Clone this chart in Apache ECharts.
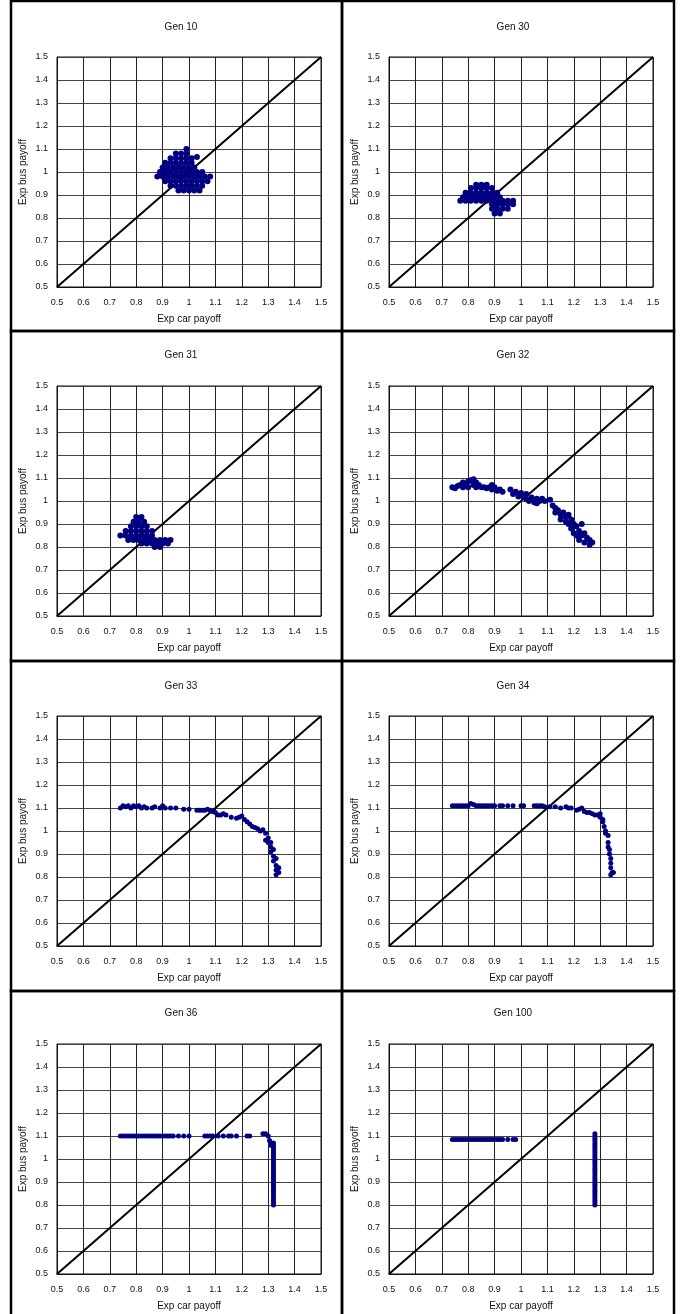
<!DOCTYPE html>
<html>
<head>
<meta charset="utf-8">
<script src="https://cdn.jsdelivr.net/npm/echarts@6/dist/echarts.min.js"></script>
<style>
html,body{margin:0;padding:0;background:#fff;}
#chart{width:685px;height:1314px;}
</style>
</head>
<body>
<div id="chart"></div>
<script>
// ---------- DATA ----------
const panelTitles = ['Gen 10', 'Gen 30', 'Gen 31', 'Gen 32', 'Gen 33', 'Gen 34', 'Gen 36', 'Gen 100'];
const xAxisTitle = 'Exp car payoff';
const yAxisTitle = 'Exp bus payoff';
const axisMin = 0.5, axisMax = 1.5, axisStep = 0.1;
const diagonal = [[0.5, 0.5], [1.5, 1.5]];

const gen10 = [
  [0.99,1.10],
  [0.95,1.08],[0.97,1.08],[0.99,1.08],
  [0.93,1.06],[0.95,1.06],[0.97,1.06],[0.99,1.06],[1.01,1.06],[1.03,1.065],
  [0.91,1.04],[0.93,1.04],[0.95,1.04],[0.97,1.04],[0.99,1.04],[1.01,1.04],
  [0.90,1.02],[0.92,1.02],[0.94,1.02],[0.96,1.02],[0.98,1.02],[1.00,1.02],[1.02,1.02],
  [0.89,1.00],[0.91,1.00],[0.93,1.00],[0.95,1.00],[0.97,1.00],[0.99,1.00],[1.01,1.00],[1.03,1.00],[1.05,1.00],
  [0.88,0.98],[0.90,0.98],[0.92,0.98],[0.94,0.98],[0.96,0.98],[0.98,0.98],[1.00,0.98],[1.02,0.98],[1.04,0.98],[1.06,0.98],[1.08,0.98],
  [0.91,0.96],[0.93,0.96],[0.95,0.96],[0.97,0.96],[0.99,0.96],[1.01,0.96],[1.03,0.96],[1.05,0.96],[1.07,0.96],
  [0.93,0.94],[0.95,0.94],[0.97,0.94],[0.99,0.94],[1.01,0.94],[1.03,0.94],[1.05,0.94],
  [0.96,0.92],[0.98,0.92],[1.00,0.92],[1.02,0.92],[1.04,0.92]
];

const gen30 = [
  [0.83,0.945],[0.85,0.945],[0.87,0.945],
  [0.81,0.93],[0.83,0.93],[0.85,0.93],[0.87,0.93],[0.89,0.93],
  [0.79,0.91],[0.81,0.91],[0.83,0.91],[0.85,0.91],[0.87,0.91],[0.89,0.91],[0.91,0.91],
  [0.78,0.89],[0.80,0.89],[0.82,0.89],[0.84,0.89],[0.86,0.89],[0.88,0.89],[0.90,0.89],[0.92,0.89],
  [0.77,0.875],[0.79,0.875],[0.81,0.875],[0.83,0.875],[0.85,0.875],[0.87,0.875],[0.89,0.875],[0.91,0.875],[0.93,0.875],[0.95,0.875],[0.97,0.875],
  [0.89,0.86],[0.91,0.86],[0.93,0.86],[0.95,0.86],[0.97,0.86],
  [0.89,0.84],[0.91,0.84],[0.93,0.84],[0.95,0.84],
  [0.90,0.82],[0.92,0.82]
];

const gen31 = [
  [0.80,0.93],[0.82,0.93],
  [0.79,0.91],[0.81,0.91],[0.83,0.91],
  [0.78,0.89],[0.80,0.89],[0.82,0.89],[0.84,0.89],
  [0.76,0.87],[0.78,0.87],[0.80,0.87],[0.82,0.87],[0.84,0.87],[0.86,0.87],
  [0.74,0.85],[0.76,0.85],[0.78,0.85],[0.80,0.85],[0.82,0.85],[0.84,0.85],[0.86,0.85],
  [0.77,0.83],[0.79,0.83],[0.81,0.83],[0.83,0.83],[0.85,0.83],[0.87,0.83],[0.89,0.83],[0.91,0.83],[0.93,0.83],
  [0.82,0.815],[0.84,0.815],[0.86,0.815],[0.88,0.815],[0.90,0.815],[0.92,0.815],
  [0.87,0.80],[0.89,0.80]
];

const gen32 = [
  [0.74,1.06],[0.75,1.055],[0.76,1.065],[0.77,1.07],[0.78,1.06],[0.78,1.08],[0.79,1.07],[0.80,1.085],
  [0.80,1.06],[0.81,1.09],[0.82,1.07],[0.82,1.095],[0.83,1.06],[0.83,1.08],[0.84,1.07],[0.85,1.06],
  [0.86,1.06],[0.87,1.055],[0.88,1.06],[0.89,1.05],[0.89,1.07],[0.90,1.06],[0.91,1.045],[0.92,1.05],
  [0.93,1.04],[0.96,1.05],[0.97,1.03],[0.98,1.04],[0.99,1.02],[1.00,1.035],[1.01,1.02],[1.02,1.03],
  [1.02,1.01],[1.03,1.00],[1.04,1.015],[1.05,0.995],[1.06,1.01],[1.06,0.99],[1.07,1.00],[1.08,1.01],
  [1.09,1.00],[1.11,1.005],[1.12,0.98],[1.13,0.97],[1.13,0.95],[1.14,0.96],[1.15,0.94],[1.15,0.92],
  [1.16,0.95],[1.17,0.93],[1.17,0.91],[1.18,0.94],[1.18,0.90],[1.19,0.92],[1.19,0.88],[1.20,0.90],
  [1.20,0.86],[1.21,0.89],[1.21,0.85],[1.22,0.87],[1.22,0.83],[1.23,0.90],[1.23,0.85],[1.24,0.82],
  [1.24,0.86],[1.25,0.84],[1.26,0.81],[1.26,0.83],[1.27,0.82]
];

const gen33 = [
  [0.74,1.10],[0.75,1.11],[0.76,1.105],[0.77,1.11],[0.78,1.10],[0.79,1.11],[0.80,1.105],[0.81,1.11],
  [0.82,1.10],[0.83,1.105],[0.84,1.10],[0.86,1.10],[0.87,1.105],[0.89,1.10],[0.90,1.11],[0.91,1.10],
  [0.93,1.10],[0.95,1.10],[0.98,1.095],[1.00,1.095],[1.03,1.09],[1.04,1.09],[1.05,1.09],[1.06,1.09],
  [1.07,1.095],[1.08,1.09],[1.09,1.085],[1.10,1.08],[1.11,1.07],[1.12,1.07],[1.13,1.075],[1.14,1.07],
  [1.16,1.06],[1.18,1.055],[1.19,1.06],[1.20,1.065],[1.21,1.05],[1.22,1.04],[1.23,1.03],[1.24,1.02],
  [1.25,1.015],[1.26,1.01],[1.27,1.00],[1.28,1.005],[1.29,0.99],[1.29,0.96],[1.30,0.95],[1.30,0.97],
  [1.31,0.93],[1.31,0.95],[1.31,0.91],[1.32,0.89],[1.32,0.92],[1.32,0.87],[1.33,0.85],[1.33,0.88],
  [1.33,0.83],[1.34,0.82],[1.33,0.81],[1.34,0.84]
];

const gen34 = [
  [0.74,1.11],[0.75,1.11],[0.76,1.11],[0.77,1.11],[0.78,1.11],[0.79,1.11],[0.80,1.11],[0.81,1.12],
  [0.82,1.115],[0.83,1.11],[0.84,1.11],[0.85,1.11],[0.86,1.11],[0.87,1.11],[0.88,1.11],[0.89,1.11],
  [0.90,1.11],[0.92,1.11],[0.93,1.11],[0.95,1.11],[0.97,1.11],[1.00,1.11],[1.01,1.11],[1.05,1.11],
  [1.06,1.11],[1.07,1.11],[1.08,1.11],[1.09,1.105],[1.11,1.105],[1.13,1.105],[1.15,1.10],[1.17,1.105],
  [1.18,1.10],[1.19,1.10],[1.21,1.09],[1.22,1.095],[1.23,1.10],[1.24,1.085],[1.25,1.08],[1.26,1.08],
  [1.27,1.075],[1.28,1.07],[1.29,1.07],[1.30,1.06],[1.30,1.075],[1.31,1.04],[1.31,1.05],[1.315,1.02],
  [1.32,1.00],[1.32,0.99],[1.33,0.98],[1.33,0.95],[1.33,0.93],[1.335,0.92],[1.335,0.90],[1.34,0.88],
  [1.34,0.86],[1.34,0.84],[1.345,0.82],[1.34,0.81],[1.35,0.82]
];

const gen36 = [
  [0.74,1.10],[0.75,1.10],[0.76,1.10],[0.77,1.10],[0.78,1.10],[0.79,1.10],[0.80,1.10],[0.81,1.10],
  [0.82,1.10],[0.83,1.10],[0.84,1.10],[0.85,1.10],[0.86,1.10],[0.87,1.10],[0.88,1.10],[0.89,1.10],
  [0.90,1.10],[0.91,1.10],[0.92,1.10],[0.93,1.10],[0.94,1.10],[0.96,1.10],[0.98,1.10],[1.00,1.10],
  [1.06,1.10],[1.07,1.10],[1.08,1.10],[1.09,1.10],[1.11,1.10],[1.13,1.10],[1.15,1.10],[1.16,1.10],
  [1.18,1.10],[1.22,1.10],[1.23,1.10],
  [1.28,1.11],[1.29,1.11],[1.30,1.10],[1.305,1.08],[1.31,1.07],[1.31,1.06],
  [1.32,1.07],[1.32,1.06],[1.32,1.05],[1.32,1.04],[1.32,1.03],[1.32,1.02],[1.32,1.01],[1.32,1.00],
  [1.32,0.99],[1.32,0.98],[1.32,0.97],[1.32,0.96],[1.32,0.95],[1.32,0.94],[1.32,0.93],[1.32,0.92],
  [1.32,0.91],[1.32,0.90],[1.32,0.89],[1.32,0.88],[1.32,0.87],[1.32,0.86],[1.32,0.85],[1.32,0.84],
  [1.32,0.83],[1.32,0.82],[1.32,0.81],[1.32,0.80]
];

const gen100 = [
  [0.74,1.085],[0.75,1.085],[0.76,1.085],[0.77,1.085],[0.78,1.085],[0.79,1.085],[0.80,1.085],
  [0.81,1.085],[0.82,1.085],[0.83,1.085],[0.84,1.085],[0.85,1.085],[0.86,1.085],[0.87,1.085],
  [0.88,1.085],[0.89,1.085],[0.90,1.085],[0.91,1.085],[0.92,1.085],[0.93,1.085],[0.95,1.085],
  [0.97,1.085],[0.98,1.085],
  [1.28,1.11],[1.28,1.10],[1.28,1.09],[1.28,1.08],[1.28,1.07],[1.28,1.06],[1.28,1.05],[1.28,1.04],
  [1.28,1.03],[1.28,1.02],[1.28,1.01],[1.28,1.00],[1.28,0.99],[1.28,0.98],[1.28,0.97],[1.28,0.96],
  [1.28,0.95],[1.28,0.94],[1.28,0.93],[1.28,0.92],[1.28,0.91],[1.28,0.90],[1.28,0.89],[1.28,0.88],
  [1.28,0.87],[1.28,0.86],[1.28,0.85],[1.28,0.84],[1.28,0.83],[1.28,0.82],[1.28,0.81],[1.28,0.80]
];

const panelData = [gen10, gen30, gen31, gen32, gen33, gen34, gen36, gen100];

// ---------- LAYOUT ----------
const FONT = 'Liberation Sans, Arial, sans-serif';
const colLeft = [57, 389];
const colCenter = [176, 508];
const rowTop = [57, 386, 716, 1044];
const rowTitleTop = [17, 345, 676, 1003];
const plotW = 264, plotH = 230;
const colFrame = [[11, 342], [342, 674]];
const rowFrame = [1, 331, 661, 991];
const markSize = [6, 6, 6, 6, 5, 5, 5, 5];

const grids = [], xAxes = [], yAxes = [], series = [], titles = [], graphics = [];

panelTitles.forEach((t, i) => {
  const r = Math.floor(i / 2), c = i % 2;
  grids.push({
    left: colLeft[c], top: rowTop[r], width: plotW, height: plotH,
    show: true, borderColor: '#111', borderWidth: 1, backgroundColor: 'transparent'
  });
  titles.push({
    text: t, left: colCenter[c], top: rowTitleTop[r], textAlign: 'center',
    textStyle: { fontFamily: FONT, fontSize: 10, fontWeight: 'normal', color: '#111' }
  });
  xAxes.push({
    type: 'value', gridIndex: i, min: axisMin, max: axisMax, interval: axisStep,
    name: xAxisTitle, nameLocation: 'middle', nameGap: 27,
    nameTextStyle: { fontFamily: FONT, fontSize: 10, color: '#111' },
    axisLine: { show: true, lineStyle: { color: '#111', width: 1 } },
    axisTick: { show: false },
    axisLabel: { fontFamily: FONT, fontSize: 9, color: '#111', margin: 11, showMinLabel: true, showMaxLabel: true },
    splitLine: { show: true, lineStyle: { color: '#222', width: 1 } }
  });
  yAxes.push({
    type: 'value', gridIndex: i, min: axisMin, max: axisMax, interval: axisStep,
    name: yAxisTitle, nameLocation: 'middle', nameGap: 29,
    nameTextStyle: { fontFamily: FONT, fontSize: 10, color: '#111' },
    axisLine: { show: true, lineStyle: { color: '#111', width: 1 } },
    axisTick: { show: false },
    axisLabel: { fontFamily: FONT, fontSize: 9, color: '#111', margin: 9, showMinLabel: true, showMaxLabel: true },
    splitLine: { show: true, lineStyle: { color: '#444', width: 1 } }
  });
  series.push({
    type: 'line', xAxisIndex: i, yAxisIndex: i, data: diagonal,
    showSymbol: false, symbol: 'none', silent: true,
    lineStyle: { color: '#000', width: 2 }, z: 3
  });
  series.push({
    type: 'scatter', xAxisIndex: i, yAxisIndex: i, data: panelData[i],
    symbol: 'circle', symbolSize: markSize[i], silent: true,
    itemStyle: { color: '#000080', opacity: 1 }, z: 4
  });
  graphics.push({
    type: 'rect', silent: true, z: 100,
    shape: { x: colFrame[c][0], y: rowFrame[r], width: colFrame[c][1] - colFrame[c][0], height: 330 },
    style: { fill: 'none', stroke: '#000', lineWidth: 2.5 }
  });
});

const chart = echarts.init(document.getElementById('chart'), null, { renderer: 'canvas', width: 685, height: 1314 });
chart.setOption({
  backgroundColor: '#fff',
  animation: false,
  title: titles,
  grid: grids,
  xAxis: xAxes,
  yAxis: yAxes,
  series: series,
  graphic: graphics
});
</script>
</body>
</html>
